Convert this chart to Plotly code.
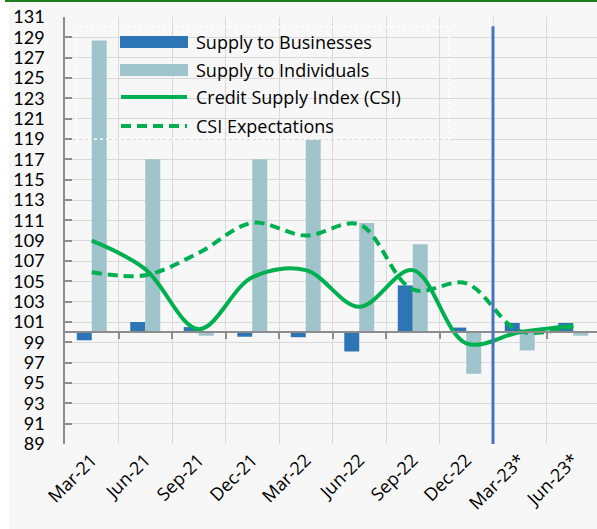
import plotly.graph_objects as go

categories = ["Mar-21", "Jun-21", "Sep-21", "Dec-21", "Mar-22", "Jun-22",
              "Sep-22", "Dec-22", "Mar-23*", "Jun-23*"]
supply_businesses = [99.2, 101.0, 100.5, 99.55, 99.5, 98.1, 104.6, 100.45, 100.9, 100.9]
supply_individuals = [128.7, 117.0, 99.65, 117.0, 118.9, 110.75, 108.65, 95.9, 98.2, 99.65]
csi = [109.0, 106.2, 100.3, 105.4, 106.1, 102.5, 106.1, 98.9, 100.0, 100.6]
csi_expectations = [105.9, 105.6, 107.8, 110.75, 109.5, 110.6, 104.2, 104.8, 100.1, 100.6]
y_ticks = list(range(89, 132, 2))
base_value = 100
forecast_split = 7.5  # boundary between Dec-22 and Mar-23*

W, H = 597, 529
PL, PT, PR, PB = 65, 17, 0, 85
PW, PH = W - PL - PR, H - PT - PB

def px(x):
    return (x - PL) / PW

def py(y):
    return (PT + PH - y) / PH

FONT = "Lato"
TXT_FONT = "Open Sans"
BLUE = "#2E75B6"
LIGHT = "#A0C4CB"
GREEN = "#00B050"
GRID = "#D9D9D9"
AXIS = "#8C8C8C"

fig = go.Figure()
fig.add_trace(go.Bar(x=categories, y=[v - base_value for v in supply_businesses],
                     base=base_value, name="Supply to Businesses",
                     marker=dict(color=BLUE, line=dict(width=0)), showlegend=False))
fig.add_trace(go.Bar(x=categories, y=[v - base_value for v in supply_individuals],
                     base=base_value, name="Supply to Individuals",
                     marker=dict(color=LIGHT, line=dict(width=0)), showlegend=False))
fig.add_trace(go.Scatter(x=categories, y=csi, mode="lines", name="Credit Supply Index (CSI)",
                         line=dict(color=GREEN, width=4, shape="spline", smoothing=1),
                         showlegend=False))
fig.add_trace(go.Scatter(x=categories, y=csi_expectations, mode="lines", name="CSI Expectations",
                         line=dict(color=GREEN, width=4, shape="spline", smoothing=1,
                                   dash="10px,6px"),
                         showlegend=False))
# helper trace for the category axis crossing at 100
fig.add_trace(go.Scatter(x=[], y=[], xaxis="x2", yaxis="y", showlegend=False,
                         hoverinfo="skip"))

xr = [-0.5, -0.5 + PW / 53.5]

fig.update_layout(
    width=W, height=H,
    margin=dict(l=PL, r=PR, t=PT, b=PB, autoexpand=False),
    paper_bgcolor="#F7F7F7", plot_bgcolor="#F7F7F7",
    barmode="group", bargap=0.44, bargroupgap=0,
    font=dict(family=FONT, size=17, color="#000000"),
    xaxis=dict(type="category", range=xr, tickson="boundaries", showgrid=True,
               gridcolor=GRID, gridwidth=1, ticks="", showline=False, zeroline=False,
               tickangle=-45, tickfont=dict(family=TXT_FONT, size=18, color="#000000"),
               ticklabelstandoff=1, automargin=False),
    xaxis2=dict(overlaying="x", anchor="free", position=(base_value - 89) / (131 - 89),
                range=xr, showline=True, linecolor=AXIS, linewidth=1.5,
                ticks="outside", ticklen=6, tickcolor=AXIS, tickwidth=1.5,
                tickvals=[i + 0.5 for i in range(9)], showticklabels=False,
                showgrid=False, zeroline=False, automargin=False),
    yaxis=dict(range=[89, 131], tickvals=y_ticks, showgrid=True, gridcolor=GRID,
               gridwidth=1, showline=True, linecolor=AXIS, linewidth=1.5,
               ticks="inside", ticklen=7, tickcolor=AXIS, tickwidth=1.5,
               zeroline=False, tickfont=dict(family=FONT, size=18, color="#000000"),
               ticklabelstandoff=15, automargin=False),
)

shapes = []
# left white strip and green top border of the chart frame
shapes.append(dict(type="rect", xref="paper", yref="paper", x0=px(-2), x1=px(9),
                   y0=py(H + 2), y1=py(-2), fillcolor="#FFFFFF", line=dict(width=0),
                   layer="above"))
shapes.append(dict(type="rect", xref="paper", yref="paper", x0=px(5), x1=px(W + 2),
                   y0=py(2), y1=py(-1), fillcolor="#1E7B1E", line=dict(width=0),
                   layer="above"))
# forecast separator
shapes.append(dict(type="line", xref="x", yref="y", x0=forecast_split, x1=forecast_split,
                   y0=89, y1=130.1, line=dict(color="#4472C4", width=3), layer="above"))
# legend dotted frame
shapes.append(dict(type="rect", xref="paper", yref="paper", x0=px(76), x1=px(449),
                   y0=py(139), y1=py(27), line=dict(color="#FFFFFF", width=1.5, dash="dot"),
                   fillcolor="rgba(0,0,0,0)"))

legend_items = [("Supply to Businesses", "bar", BLUE, None),
                ("Supply to Individuals", "bar", LIGHT, None),
                ("Credit Supply Index (CSI)", "line", GREEN, "solid"),
                ("CSI Expectations", "line", GREEN, "10px,6px")]
rows = [42, 70, 97, 126]
annotations = []
for (label, kind, color, dash), ry in zip(legend_items, rows):
    if kind == "bar":
        shapes.append(dict(type="rect", xref="paper", yref="paper", x0=px(120), x1=px(188),
                           y0=py(ry + 6), y1=py(ry - 6), fillcolor=color, line=dict(width=0)))
    else:
        shapes.append(dict(type="line", xref="paper", yref="paper", x0=px(121), x1=px(187),
                           y0=py(ry), y1=py(ry), line=dict(color=color, width=4, dash=dash)))
    annotations.append(dict(xref="paper", yref="paper", x=px(194), y=py(ry), text=label,
                            showarrow=False, xanchor="left", yanchor="middle",
                            font=dict(family=TXT_FONT, size=18, color="#000000")))

fig.update_layout(shapes=shapes, annotations=annotations)
fig.write_html("out.html", config={"displayModeBar": False},
               post_script="document.body.style.margin='0';document.body.style.overflow='hidden';")
